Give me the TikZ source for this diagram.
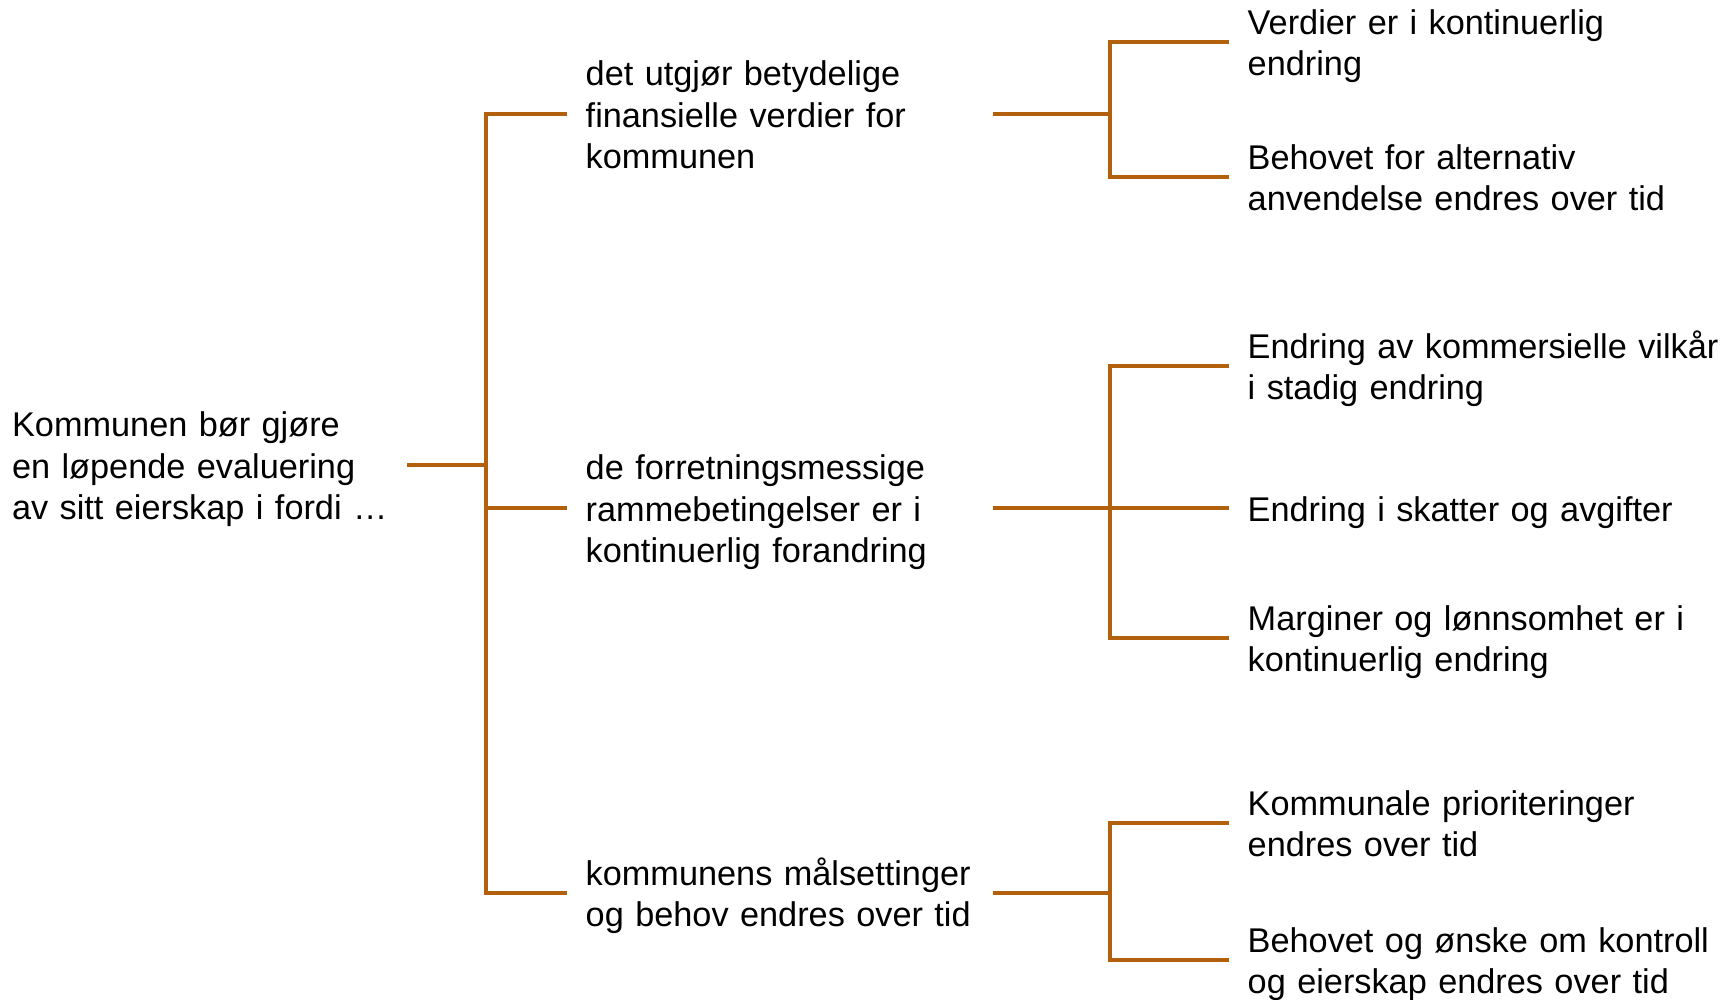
\documentclass[tikz,border=0pt]{standalone}
\usepackage{fontspec}
\setmainfont{Liberation Sans}
\usetikzlibrary{positioning}
\definecolor{branch}{RGB}{178,96,12}
\begin{document}
\begin{tikzpicture}[x=0.01cm,y=-0.01cm,
    txt/.style={font=\fontsize{9.75}{11.8}\selectfont,align=left,inner ysep=0pt,inner xsep=0.18cm,
      execute at begin node=\rule{0pt}{11pt},execute at end node=\strut},
    rootbox/.style={txt,inner xsep=0pt,text width=3.94cm,anchor=east},
    midbox/.style={txt,text width=3.88cm,anchor=west},
    leafbox/.style={txt,text width=4.8cm,anchor=west},
    fork/.style={draw=branch,line width=1.1pt}]
\useasboundingbox (0,0) rectangle (1733,999);
\node[rootbox] (root) at (407,465) {Kommunen bør gjøre\\en løpende evaluering\\av sitt eierskap i fordi …};
\node[midbox] (a) at (567,114) {det utgjør betydelige\\finansielle verdier for\\kommunen};
\node[midbox] (b) at (567,508) {de forretningsmessige\\rammebetingelser er i\\kontinuerlig forandring};
\node[midbox] (c) at (567,893) {kommunens målsettinger\\og behov endres over tid};
\node[leafbox] (a1) at (1229,42) {Verdier er i kontinuerlig\\endring};
\node[leafbox] (a2) at (1229,177) {Behovet for alternativ\\anvendelse endres over tid};
\node[leafbox] (b1) at (1229,366) {Endring av kommersielle vilkår\\i stadig endring};
\node[leafbox] (b2) at (1229,508) {Endring i skatter og avgifter};
\node[leafbox] (b3) at (1229,638) {Marginer og lønnsomhet er i\\kontinuerlig endring};
\node[leafbox] (c1) at (1229,823) {Kommunale prioriteringer\\endres over tid};
\node[leafbox] (c2) at (1229,960) {Behovet og ønske om kontroll\\og eierskap endres over tid};
\coordinate (j0) at (486,465);
\coordinate (ja) at (1110,114);
\coordinate (jb) at (1110,508);
\coordinate (jc) at (1110,893);
\draw[fork] (root.east) -- (j0);
\draw[fork] (a.west) -| (j0) |- (c.west);
\draw[fork] (j0 |- b.west) -- (b.west);
\draw[fork] (a.east) -- (ja);
\draw[fork] (a1.west) -| (ja) |- (a2.west);
\draw[fork] (b.east) -- (jb) -- (b2.west);
\draw[fork] (b1.west) -| (jb) |- (b3.west);
\draw[fork] (c.east) -- (jc);
\draw[fork] (c1.west) -| (jc) |- (c2.west);
\end{tikzpicture}
\end{document}
